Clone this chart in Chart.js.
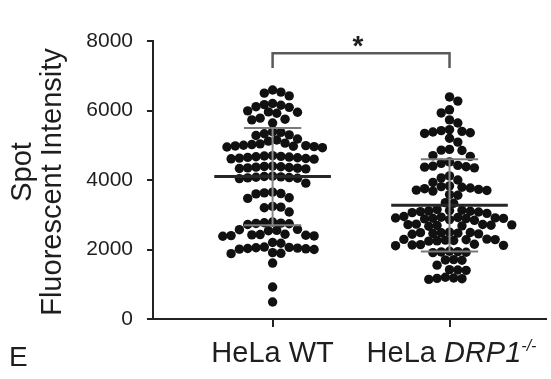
<!DOCTYPE html>
<html>
<head>
<meta charset="utf-8">
<script src="https://cdn.jsdelivr.net/npm/chart.js@4.4.1/dist/chart.umd.min.js"></script>
<style>
  html, body { margin: 0; padding: 0; background: #fff; }
  #wrap { position: relative; width: 551px; height: 379px; }
</style>
</head>
<body>
<div id="wrap"><canvas id="chart" width="551" height="379"></canvas></div>
<script>
// ---- data ----
const groupPos = [1, 2];
const wtValues = [
  6590, 6530, 6500, 6420,
  6200, 6170, 6150, 6110, 6090,
  5990, 5960, 5950, 5920,
  5780, 5750, 5730, 5640,
  5390, 5370, 5330, 5300, 5280,
  5180, 5150, 5120, 5060, 5040, 5020, 5000, 4990, 4980, 4970, 4960, 4950, 4930,
  4700, 4690, 4680, 4670, 4660, 4650, 4640, 4630, 4620, 4610, 4600,
  4400, 4390, 4380, 4370, 4360, 4350, 4340, 4330, 4320,
  4110, 4100, 4090, 4080, 4070, 4060, 4050, 4040,
  3910,
  3650, 3630, 3610, 3600,
  3490, 3470,
  3240, 3220, 3200,
  3080,
  2790, 2770, 2760, 2750, 2740, 2720,
  2580, 2570, 2550, 2540,
  2440, 2430, 2420, 2410, 2400, 2390, 2380,
  2200, 2180,
  2070, 2060, 2050, 2040, 2030, 2020, 2010, 2000,
  1910, 1890, 1880,
  1610,
  920,
  490
];
const drpValues = [
  6390, 6270, 6020, 5930, 5730, 5640,
  5450, 5420, 5400, 5380, 5360, 5340, 5200,
  5090,
  4880, 4860, 4850,
  4700, 4680,
  4520, 4480, 4420, 4400, 4380, 4370, 4350,
  4120, 4060, 4000, 3930,
  3830, 3810, 3790, 3770, 3750, 3730, 3710, 3700, 3680,
  3580, 3560,
  3350, 3330,
  3150, 3130, 3120, 3110, 3100, 3090, 3080, 3060, 3040,
  2950, 2930, 2920, 2910, 2905, 2900, 2895, 2890, 2880, 2860, 2840,
  2730, 2720, 2715, 2710, 2700, 2690, 2680, 2670,
  2500, 2490, 2485, 2480, 2470, 2460, 2450, 2440,
  2300, 2290, 2285, 2280, 2270, 2260, 2250, 2240,
  2150, 2140, 2130, 2120, 2110,
  1950, 1940, 1930, 1920, 1910,
  1710, 1700, 1690,
  1550,
  1420, 1410, 1400,
  1200, 1180, 1170, 1160, 1140
];
const means = [4100, 3270];
const sds = [1400, 1330];
const yTicks = [0, 2000, 4000, 6000, 8000];
const sigBracket = [7650, 7220]; // bar level, leg bottom

// ---- layout ----
const FONT = '"Liberation Sans", Arial, Helvetica, sans-serif';
const AREA = { left: 153, right: 551, top: 41, bottom: 319 };
const X_MIN = 0.324, X_MAX = 2.547, Y_MAX = 8000;
const DOT_R = 4.7;
const GAP = 8.4;      // min centre distance between dots (px)
const pxPerX = (AREA.right - AREA.left) / (X_MAX - X_MIN);
const pxPerY = (AREA.bottom - AREA.top) / Y_MAX;

// grid-snapped beeswarm: offsets in px, on half-dot columns, nearest to centre first
function swarm(values) {
  const placed = [];
  const offs = new Array(values.length);
  const order = values.map((v, i) => i).sort((a, b) => values[b] - values[a]);
  const step = GAP / 2;
  let side = 1;
  order.forEach(i => {
    const yy = values[i] * pxPerY;
    const near = placed.filter(p => Math.abs(p.y - yy) < GAP);
    const ok = c => near.every(p => (p.x - c) ** 2 + (p.y - yy) ** 2 >= GAP * GAP - 0.01);
    let xx = 0;
    if (!ok(0)) {
      for (let k = 1; k < 40; k++) {
        const a = side * k * step, b = -side * k * step;
        if (ok(a)) { xx = a; break; }
        if (ok(b)) { xx = b; break; }
      }
      side = xx > 0 ? -1 : 1;
    }
    placed.push({ x: xx, y: yy });
    offs[i] = xx;
  });
  return offs;
}

function points(values, pos) {
  const offs = swarm(values);
  return values.map((v, i) => ({ x: pos + offs[i] / pxPerX, y: v }));
}

function seg(x1, y1, x2, y2, color, width) {
  return {
    type: 'line', data: [{ x: x1, y: y1 }, { x: x2, y: y2 }],
    borderColor: color, borderWidth: width, pointRadius: 0, order: 0
  };
}

function statLines(i) {
  const p = groupPos[i], m = means[i], s = sds[i];
  const half = 59 / pxPerX, cap = 29 / pxPerX;
  return [
    seg(p, m - s, p, m + s, '#8a8a8a', 2),
    seg(p - cap, m + s, p + cap, m + s, '#7a7a7a', 2),
    seg(p - cap, m - s, p + cap, m - s, '#7a7a7a', 2),
    seg(p - half, m, p + half, m, '#262626', 3)
  ];
}

const annot = {
  id: 'annot',
  afterDraw(chart) {
    const { ctx, scales: { x, y } } = chart;
    ctx.save();
    ctx.fillStyle = '#1e1e1e';

    // y title
    ctx.save();
    ctx.translate(0, 182);
    ctx.rotate(-Math.PI / 2);
    ctx.font = `29px ${FONT}`;
    ctx.textAlign = 'center';
    ctx.textBaseline = 'alphabetic';
    ctx.fillText('Spot', 10, 31);
    ctx.fillText('Fluorescent Intensity', 0, 61);
    ctx.restore();

    // category labels
    const base = 362;
    ctx.textBaseline = 'alphabetic';
    ctx.textAlign = 'left';
    ctx.font = `29px ${FONT}`;
    const l1 = 'HeLa WT';
    ctx.fillText(l1, x.getPixelForValue(groupPos[0]) - ctx.measureText(l1).width / 2, base);

    const parts = [
      { t: 'HeLa ', f: `29px ${FONT}`, dy: 0 },
      { t: 'DRP1', f: `italic 29px ${FONT}`, dy: 0 },
      { t: '-/-', f: `italic 16px ${FONT}`, dy: -11 }
    ];
    let total = 0;
    parts.forEach(p => { ctx.font = p.f; p.w = ctx.measureText(p.t).width; total += p.w; });
    let cx = x.getPixelForValue(groupPos[1]) + 2 - total / 2;
    parts.forEach(p => { ctx.font = p.f; ctx.fillText(p.t, cx, base + p.dy); cx += p.w; });

    // panel letter
    ctx.font = `28px ${FONT}`;
    ctx.fillText('E', 9, 366);

    // significance bracket
    const xa = x.getPixelForValue(groupPos[0]), xb = x.getPixelForValue(groupPos[1]);
    const yt = y.getPixelForValue(sigBracket[0]), yl = y.getPixelForValue(sigBracket[1]);
    ctx.strokeStyle = '#5a5a5a';
    ctx.lineWidth = 2.5;
    ctx.beginPath();
    ctx.moveTo(xa, yl); ctx.lineTo(xa, yt); ctx.lineTo(xb, yt); ctx.lineTo(xb, yl);
    ctx.stroke();
    ctx.font = `bold 28px ${FONT}`;
    ctx.textAlign = 'center';
    ctx.fillText('*', (xa + xb) / 2 - 3, yt + 2);
    ctx.restore();
  }
};

new Chart(document.getElementById('chart'), {
  type: 'scatter',
  data: {
    datasets: [
      { data: points(wtValues, groupPos[0]), backgroundColor: '#111', borderWidth: 0, pointRadius: DOT_R, order: 2 },
      { data: points(drpValues, groupPos[1]), backgroundColor: '#111', borderWidth: 0, pointRadius: DOT_R, order: 2 },
      ...statLines(0),
      ...statLines(1)
    ]
  },
  options: {
    responsive: false,
    animation: false,
    devicePixelRatio: 1,
    layout: { padding: { top: AREA.top, left: 0, right: 0, bottom: 0 } },
    plugins: { legend: { display: false }, tooltip: { enabled: false } },
    scales: {
      x: {
        type: 'linear', min: X_MIN, max: X_MAX,
        afterBuildTicks: s => { s.ticks = groupPos.map(v => ({ value: v })); },
        afterFit: s => { s.height = 379 - AREA.bottom; },
        ticks: { display: false },
        grid: { drawOnChartArea: false, drawTicks: true, tickLength: 8, color: '#222', lineWidth: 2 },
        border: { color: '#222', width: 2 }
      },
      y: {
        min: 0, max: Y_MAX,
        afterBuildTicks: s => { s.ticks = yTicks.map(v => ({ value: v })); },
        afterFit: s => { s.width = AREA.left; },
        ticks: { color: '#1e1e1e', font: { family: FONT, size: 21 }, padding: 14, callback: v => String(v) },
        grid: { drawOnChartArea: false, drawTicks: true, tickLength: 6, color: '#222', lineWidth: 2 },
        border: { color: '#222', width: 2 }
      }
    }
  },
  plugins: [annot]
});
</script>
</body>
</html>
